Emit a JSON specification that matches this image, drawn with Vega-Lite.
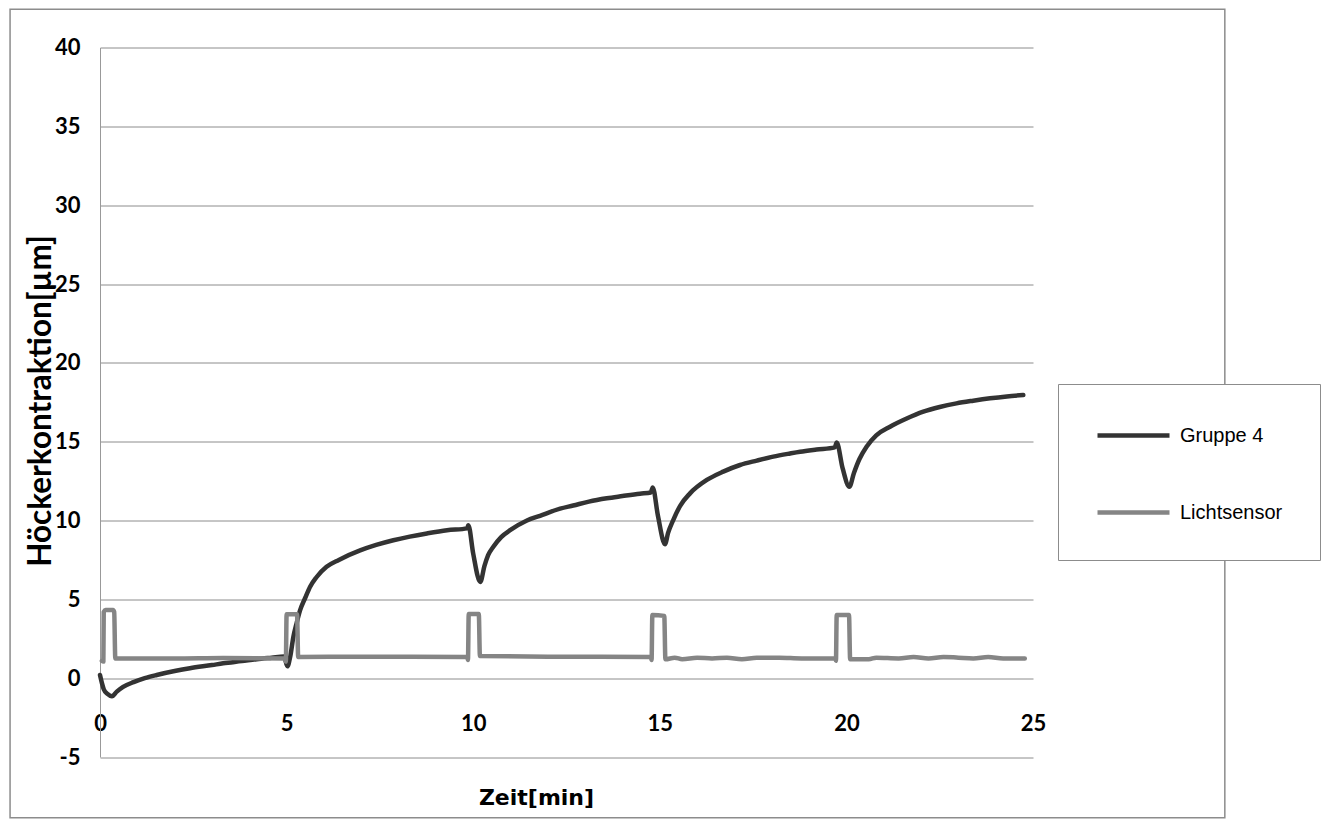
{
  "$schema": "https://vega.github.io/schema/vega-lite/v6.json",
  "width": 933,
  "height": 709.5,
  "autosize": {"type": "none"},
  "padding": {"left": 100, "top": 47.5, "right": 295, "bottom": 63},
  "background": "white",
  "config": {"view": {"stroke": null}, "font": "Lato"},
  "layer": [
    {
      "data": {"values": [{}]},
      "mark": {"type": "rect", "fill": null, "stroke": "#8c8c8c", "strokeWidth": 1.5},
      "encoding": {
        "x": {"datum": -2.41, "type": "quantitative"},
        "x2": {"datum": 30.14},
        "y": {"datum": 42.42, "type": "quantitative"},
        "y2": {"datum": -8.86}
      }
    },
    {
      "data": {"values": [
        {"Reihe":"Gruppe 4","t":0,"v":0.2},{"Reihe":"Gruppe 4","t":0.05,"v":-0.3},{"Reihe":"Gruppe 4","t":0.1,"v":-0.7},{"Reihe":"Gruppe 4","t":0.2,"v":-1.0},{"Reihe":"Gruppe 4","t":0.32,"v":-1.15},{"Reihe":"Gruppe 4","t":0.45,"v":-0.85},{"Reihe":"Gruppe 4","t":0.62,"v":-0.55},{"Reihe":"Gruppe 4","t":0.9,"v":-0.25},{"Reihe":"Gruppe 4","t":1.2,"v":0.0},{"Reihe":"Gruppe 4","t":1.52,"v":0.2},{"Reihe":"Gruppe 4","t":2.0,"v":0.45},{"Reihe":"Gruppe 4","t":2.41,"v":0.63},{"Reihe":"Gruppe 4","t":3.0,"v":0.83},{"Reihe":"Gruppe 4","t":3.3,"v":0.94},{"Reihe":"Gruppe 4","t":3.8,"v":1.08},{"Reihe":"Gruppe 4","t":4.2,"v":1.2},{"Reihe":"Gruppe 4","t":4.6,"v":1.3},{"Reihe":"Gruppe 4","t":4.93,"v":1.38},{"Reihe":"Gruppe 4","t":5.02,"v":0.75},{"Reihe":"Gruppe 4","t":5.1,"v":1.4},{"Reihe":"Gruppe 4","t":5.18,"v":2.6},{"Reihe":"Gruppe 4","t":5.27,"v":3.5},{"Reihe":"Gruppe 4","t":5.36,"v":4.3},{"Reihe":"Gruppe 4","t":5.5,"v":5.1},{"Reihe":"Gruppe 4","t":5.63,"v":5.8},{"Reihe":"Gruppe 4","t":5.8,"v":6.4},{"Reihe":"Gruppe 4","t":6.07,"v":7.06},{"Reihe":"Gruppe 4","t":6.4,"v":7.5},{"Reihe":"Gruppe 4","t":6.97,"v":8.1},{"Reihe":"Gruppe 4","t":7.4,"v":8.45},{"Reihe":"Gruppe 4","t":7.86,"v":8.75},{"Reihe":"Gruppe 4","t":8.3,"v":8.98},{"Reihe":"Gruppe 4","t":8.76,"v":9.18},{"Reihe":"Gruppe 4","t":9.3,"v":9.38},{"Reihe":"Gruppe 4","t":9.84,"v":9.5},{"Reihe":"Gruppe 4","t":9.87,"v":9.7},{"Reihe":"Gruppe 4","t":10.0,"v":7.9},{"Reihe":"Gruppe 4","t":10.19,"v":6.1},{"Reihe":"Gruppe 4","t":10.3,"v":7.1},{"Reihe":"Gruppe 4","t":10.4,"v":7.8},{"Reihe":"Gruppe 4","t":10.54,"v":8.34},{"Reihe":"Gruppe 4","t":10.75,"v":8.95},{"Reihe":"Gruppe 4","t":11.0,"v":9.4},{"Reihe":"Gruppe 4","t":11.44,"v":10.0},{"Reihe":"Gruppe 4","t":11.79,"v":10.3},{"Reihe":"Gruppe 4","t":12.33,"v":10.75},{"Reihe":"Gruppe 4","t":12.68,"v":10.95},{"Reihe":"Gruppe 4","t":13.1,"v":11.2},{"Reihe":"Gruppe 4","t":13.58,"v":11.41},{"Reihe":"Gruppe 4","t":14.0,"v":11.55},{"Reihe":"Gruppe 4","t":14.47,"v":11.7},{"Reihe":"Gruppe 4","t":14.76,"v":11.78},{"Reihe":"Gruppe 4","t":14.81,"v":12.1},{"Reihe":"Gruppe 4","t":14.95,"v":10.3},{"Reihe":"Gruppe 4","t":15.14,"v":8.5},{"Reihe":"Gruppe 4","t":15.22,"v":9.2},{"Reihe":"Gruppe 4","t":15.36,"v":10.03},{"Reihe":"Gruppe 4","t":15.55,"v":10.95},{"Reihe":"Gruppe 4","t":15.81,"v":11.72},{"Reihe":"Gruppe 4","t":16.26,"v":12.57},{"Reihe":"Gruppe 4","t":16.7,"v":13.1},{"Reihe":"Gruppe 4","t":17.15,"v":13.52},{"Reihe":"Gruppe 4","t":17.6,"v":13.8},{"Reihe":"Gruppe 4","t":18.04,"v":14.05},{"Reihe":"Gruppe 4","t":18.49,"v":14.25},{"Reihe":"Gruppe 4","t":18.76,"v":14.36},{"Reihe":"Gruppe 4","t":19.2,"v":14.5},{"Reihe":"Gruppe 4","t":19.69,"v":14.64},{"Reihe":"Gruppe 4","t":19.74,"v":14.95},{"Reihe":"Gruppe 4","t":19.9,"v":13.3},{"Reihe":"Gruppe 4","t":20.08,"v":12.14},{"Reihe":"Gruppe 4","t":20.2,"v":13.0},{"Reihe":"Gruppe 4","t":20.35,"v":13.9},{"Reihe":"Gruppe 4","t":20.54,"v":14.68},{"Reihe":"Gruppe 4","t":20.8,"v":15.4},{"Reihe":"Gruppe 4","t":21.17,"v":15.95},{"Reihe":"Gruppe 4","t":21.6,"v":16.45},{"Reihe":"Gruppe 4","t":22.06,"v":16.9},{"Reihe":"Gruppe 4","t":22.5,"v":17.2},{"Reihe":"Gruppe 4","t":22.95,"v":17.43},{"Reihe":"Gruppe 4","t":23.4,"v":17.6},{"Reihe":"Gruppe 4","t":23.85,"v":17.75},{"Reihe":"Gruppe 4","t":24.3,"v":17.87},{"Reihe":"Gruppe 4","t":24.74,"v":17.96},
        {"Reihe":"Lichtsensor","t":0.05,"v":1.1},{"Reihe":"Lichtsensor","t":0.09,"v":1.05},{"Reihe":"Lichtsensor","t":0.1,"v":4.2},{"Reihe":"Lichtsensor","t":0.15,"v":4.32},{"Reihe":"Lichtsensor","t":0.35,"v":4.32},{"Reihe":"Lichtsensor","t":0.38,"v":4.2},{"Reihe":"Lichtsensor","t":0.41,"v":1.25},{"Reihe":"Lichtsensor","t":2.0,"v":1.25},{"Reihe":"Lichtsensor","t":3.3,"v":1.28},{"Reihe":"Lichtsensor","t":4.96,"v":1.25},{"Reihe":"Lichtsensor","t":4.98,"v":1.05},{"Reihe":"Lichtsensor","t":5.0,"v":4.05},{"Reihe":"Lichtsensor","t":5.28,"v":4.05},{"Reihe":"Lichtsensor","t":5.31,"v":1.35},{"Reihe":"Lichtsensor","t":7.0,"v":1.36},{"Reihe":"Lichtsensor","t":9.84,"v":1.35},{"Reihe":"Lichtsensor","t":9.86,"v":1.15},{"Reihe":"Lichtsensor","t":9.88,"v":4.07},{"Reihe":"Lichtsensor","t":10.15,"v":4.07},{"Reihe":"Lichtsensor","t":10.18,"v":1.4},{"Reihe":"Lichtsensor","t":12.0,"v":1.36},{"Reihe":"Lichtsensor","t":14.76,"v":1.35},{"Reihe":"Lichtsensor","t":14.78,"v":1.15},{"Reihe":"Lichtsensor","t":14.8,"v":4.0},{"Reihe":"Lichtsensor","t":15.12,"v":3.95},{"Reihe":"Lichtsensor","t":15.15,"v":1.2},{"Reihe":"Lichtsensor","t":15.4,"v":1.3},{"Reihe":"Lichtsensor","t":15.6,"v":1.2},{"Reihe":"Lichtsensor","t":16.0,"v":1.3},{"Reihe":"Lichtsensor","t":16.4,"v":1.25},{"Reihe":"Lichtsensor","t":16.8,"v":1.3},{"Reihe":"Lichtsensor","t":17.2,"v":1.2},{"Reihe":"Lichtsensor","t":17.6,"v":1.3},{"Reihe":"Lichtsensor","t":18.2,"v":1.3},{"Reihe":"Lichtsensor","t":18.8,"v":1.25},{"Reihe":"Lichtsensor","t":19.7,"v":1.25},{"Reihe":"Lichtsensor","t":19.72,"v":1.1},{"Reihe":"Lichtsensor","t":19.74,"v":4.0},{"Reihe":"Lichtsensor","t":20.07,"v":4.0},{"Reihe":"Lichtsensor","t":20.1,"v":1.2},{"Reihe":"Lichtsensor","t":20.6,"v":1.2},{"Reihe":"Lichtsensor","t":20.8,"v":1.3},{"Reihe":"Lichtsensor","t":21.4,"v":1.25},{"Reihe":"Lichtsensor","t":21.8,"v":1.35},{"Reihe":"Lichtsensor","t":22.2,"v":1.25},{"Reihe":"Lichtsensor","t":22.6,"v":1.35},{"Reihe":"Lichtsensor","t":23.0,"v":1.3},{"Reihe":"Lichtsensor","t":23.4,"v":1.25},{"Reihe":"Lichtsensor","t":23.8,"v":1.35},{"Reihe":"Lichtsensor","t":24.2,"v":1.25},{"Reihe":"Lichtsensor","t":24.78,"v":1.25}
      ]},
      "mark": {"type": "line", "strokeWidth": 4.5, "strokeCap": "round", "strokeJoin": "round", "interpolate": "monotone"},
      "encoding": {
        "x": {
          "field": "t", "type": "quantitative",
          "scale": {"domain": [0, 25], "nice": false},
          "axis": {
            "title": "Zeit[min]", "values": [0, 5, 10, 15, 20, 25], "offset": -27,
            "domain": false, "ticks": false, "tickSize": 0, "grid": false,
            "labelFont": "Lato", "labelFontSize": 22, "labelFontWeight": "bold", "labelColor": "black",
            "labelBaseline": "alphabetic", "labelPadding": 0, "labelFlush": false, "labelOverlap": false,
            "titleFont": "DejaVu Sans", "titleFontSize": 22, "titleFontWeight": "bold", "titleColor": "black",
            "titleX": 436, "titleY": 74, "titleAlign": "center", "titleBaseline": "alphabetic"
          }
        },
        "y": {
          "field": "v", "type": "quantitative",
          "scale": {"domain": [-5, 40], "nice": false},
          "axis": {
            "title": "Höckerkontraktion[µm]", "values": [-5, 0, 5, 10, 15, 20, 25, 30, 35, 40],
            "labelExpr": "'' + datum.value",
            "domain": true, "domainColor": "#999999", "domainWidth": 1,
            "ticks": false, "tickSize": 0,
            "grid": true, "gridColor": "#8c8c8c", "gridWidth": 1,
            "labelFont": "Lato", "labelFontSize": 22, "labelFontWeight": "bold", "labelColor": "black",
            "labelPadding": 20, "labelBaseline": "middle", "labelFlush": false, "labelOverlap": false,
            "titleFont": "Lato", "titleFontSize": 31.5, "titleFontWeight": "bold", "titleColor": "black",
            "titleAngle": -90, "titleX": -50, "titleY": 353, "titleAlign": "center", "titleBaseline": "alphabetic"
          }
        },
        "color": {
          "field": "Reihe", "type": "nominal",
          "scale": {"domain": ["Gruppe 4", "Lichtsensor"], "range": ["#333333", "#858585"]},
          "legend": {
            "orient": "none", "legendX": 958, "legendY": 336.5, "title": null,
            "fillColor": "white", "strokeColor": "#8c8c8c", "padding": 37,
            "symbolType": "M-1,0H5", "symbolSize": 576, "symbolStrokeWidth": 4.5,
            "labelFont": "Liberation Sans", "labelFontSize": 20, "labelColor": "black",
            "labelOffset": 56, "rowPadding": 52
          }
        }
      }
    }
  ]
}
